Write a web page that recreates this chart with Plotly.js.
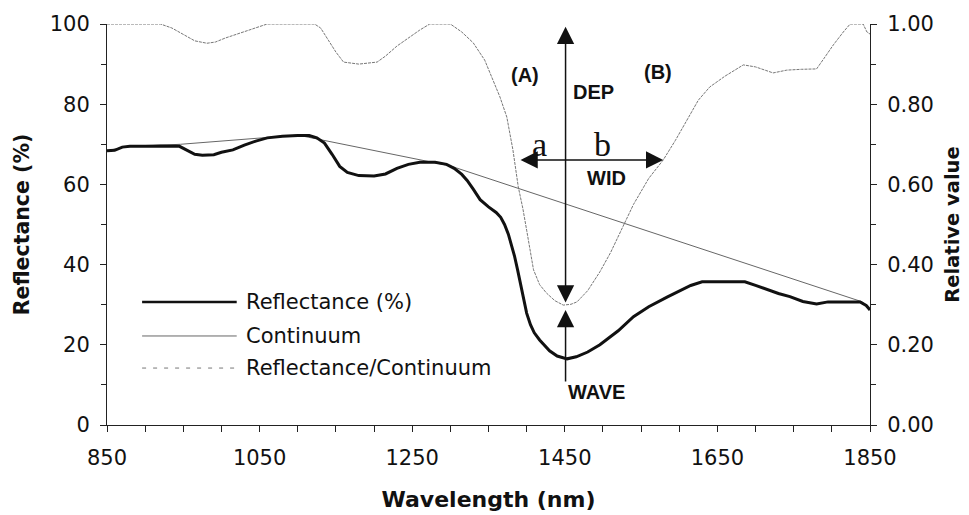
<!DOCTYPE html>
<html>
<head>
<meta charset="utf-8">
<script src="https://cdn.plot.ly/plotly-3.0.1.min.js"></script>
<style>html,body{margin:0;padding:0;background:#fff;}#chart{width:969px;height:515px;}</style>
</head>
<body>
<div id="chart"></div>
<script>
// Reflectance (%) — thick black line, left axis
const reflWl  = [850,860,870,880,900,920,945,955,965,975,990,1000,1015,1030,1045,1060,1080,1100,1115,1125,1135,1145,1155,1165,1180,1200,1215,1230,1245,1260,1280,1295,1305,1315,1322,1330,1339,1350,1360,1366,1371,1376,1380,1384,1388,1391,1396,1400,1405,1410,1417,1430,1440,1453,1465,1480,1496,1520,1540,1560,1584,1600,1615,1630,1660,1686,1700,1715,1730,1745,1762,1780,1795,1820,1837,1845,1850];
const reflVal = [68.4,68.5,69.3,69.5,69.5,69.6,69.5,68.5,67.5,67.3,67.4,68.0,68.6,69.8,70.8,71.6,72.0,72.2,72.2,71.6,70.3,67.5,64.5,63.0,62.2,62.1,62.6,64.0,65.0,65.5,65.5,65.0,64.0,62.5,61.0,58.8,56.2,54.4,53.0,51.8,50.0,47.6,45.2,42.2,38.8,36.2,31.5,27.9,25.0,23.0,21.2,18.5,17.2,16.5,17.0,18.2,20.0,23.5,27.0,29.5,31.9,33.5,34.8,35.7,35.8,35.7,34.8,33.7,32.8,32.0,30.8,30.2,30.7,30.7,30.7,29.8,28.7];

// Continuum (%) — thin solid grey line, left axis
const contWl  = [850,876,946,1064,1100,1300,1840,1850];
const contVal = [68.4,69.4,70.0,71.8,72.3,64.6,30.7,28.7];

// Reflectance/Continuum (relative value) — thin dashed grey line, right axis
const ratioWl  = [850,920,935,950,965,981,992,1005,1020,1035,1050,1060,1122,1130,1140,1150,1160,1180,1204,1215,1230,1245,1260,1273,1300,1315,1330,1345,1355,1365,1374,1382,1389,1395,1400,1405,1409,1417,1426,1437,1448,1458,1466,1480,1496,1510,1522,1540,1560,1579,1595,1610,1625,1640,1660,1684,1700,1723,1741,1760,1780,1790,1802,1815,1824,1841,1846,1850];
const ratioVal = [1.0,1.0,0.99,0.975,0.958,0.952,0.955,0.965,0.975,0.985,0.995,1.0,1.0,0.99,0.96,0.93,0.905,0.90,0.905,0.92,0.945,0.965,0.985,1.0,1.0,0.98,0.953,0.91,0.865,0.818,0.768,0.686,0.594,0.54,0.486,0.43,0.387,0.35,0.329,0.31,0.299,0.301,0.307,0.335,0.382,0.43,0.479,0.55,0.615,0.661,0.71,0.761,0.81,0.843,0.87,0.898,0.893,0.878,0.885,0.887,0.888,0.915,0.948,0.98,1.0,1.0,0.98,0.975];

const seriesNames = ['Reflectance (%)','Continuum','Reflectance/Continuum'];
const xTitle = 'Wavelength (nm)';
const yTitle = 'Reflectance (%)';
const y2Title = 'Relative value';

// Feature annotations (wavelength, value)
const depX = 1451, depTop = 0.993, depBottom = 0.302;
const waveTail = 0.105, waveHead = 0.287;
const widY = 0.661, widLeft = 1390, widRight = 1579;

const styles = [
  {color:'#111', width:3, dash:'solid'},
  {color:'#666', width:1, dash:'solid'},
  {color:'#777', width:1, dash:'3px,1px'}
];
const legendDash = ['solid','solid','4px,7px'];

const traces = [
  {x: ratioWl, y: ratioVal, yaxis:'y2', name: seriesNames[2], mode:'lines', line: styles[2], hoverinfo:'skip'},
  {x: contWl, y: contVal, name: seriesNames[1], mode:'lines', line: styles[1], hoverinfo:'skip'},
  {x: reflWl, y: reflVal, name: seriesNames[0], mode:'lines', line: styles[0], hoverinfo:'skip'}
];

const F = 'DejaVu Sans, Verdana, sans-serif';
const axCol = '#222';

// manual legend (long line samples)
const legRows = [0.307, 0.222, 0.142];
const legX0 = 0.046, legX1 = 0.170, legTX = 0.180;
const shapes = [];
const annotations = [];
legRows.forEach((yy, i) => {
  shapes.push({type:'line', xref:'paper', yref:'paper', x0:legX0, x1:legX1, y0:yy, y1:yy,
               line:{color:styles[i].color, width: i===0 ? 2.5 : 1, dash: legendDash[i]}});
  annotations.push({xref:'paper', yref:'paper', x:legTX, y:yy, text:seriesNames[i], showarrow:false,
               xanchor:'left', yanchor:'middle', font:{family:F, size:21, color:'#111'}});
});

const arrowBase = {showarrow:true, text:'', arrowcolor:'#111', arrowwidth:1.5, arrowsize:2.3, startarrowsize:2.3, arrowhead:2, startarrowhead:2, standoff:0, startstandoff:0};
annotations.push(Object.assign({}, arrowBase, {xref:'x', yref:'y2', axref:'x', ayref:'y2', x:depX, y:depTop, ax:depX, ay:depBottom, arrowside:'end+start'}));
annotations.push(Object.assign({}, arrowBase, {xref:'x', yref:'y2', axref:'x', ayref:'y2', x:depX, y:waveHead, ax:depX, ay:waveTail, arrowside:'end'}));
annotations.push(Object.assign({}, arrowBase, {xref:'x', yref:'y2', axref:'x', ayref:'y2', x:widRight, y:widY, ax:widLeft, ay:widY, arrowside:'end+start'}));

const boldF = {family:'Liberation Sans, Arial, sans-serif', size:20, color:'#111', weight:'bold'};
const labels = [
  ['(A)', 1398, 87.3, boldF],
  ['(B)', 1572, 88.0, boldF],
  ['DEP', 1487, 83.0, boldF],
  ['WID', 1505, 61.6, boldF],
  ['WAVE', 1492, 8.2, boldF],
  ['a', 1417, 70.0, {family:'Liberation Serif, Times New Roman, serif', size:34, color:'#111'}],
  ['b', 1499, 70.0, {family:'Liberation Serif, Times New Roman, serif', size:34, color:'#111'}]
];
labels.forEach(l => annotations.push({x:l[1], y:l[2], xref:'x', yref:'y', text:l[0], showarrow:false, xanchor:'center', yanchor:'middle', font:l[3]}));

const layout = {
  width:969, height:515,
  margin:{l:107, r:99, t:24, b:90},
  paper_bgcolor:'#fff', plot_bgcolor:'#fff',
  showlegend:false,
  font:{family:F, size:21, color:'#111'},
  xaxis:{range:[850,1850], tick0:850, dtick:200, ticks:'outside', ticklen:6, tickcolor:axCol,
         showline:true, linecolor:axCol, linewidth:1, showgrid:false, zeroline:false,
         minor:{tick0:850, dtick:50, ticks:'outside', ticklen:6, tickcolor:axCol, showgrid:false},
         tickfont:{family:F, size:21}, ticklabelstandoff:8,
         title:{text:xTitle, font:{family:F, size:22, weight:'bold'}, standoff:22}},
  yaxis:{range:[0,100], tick0:0, dtick:20, ticks:'outside', ticklen:6, tickcolor:axCol,
         showline:true, linecolor:axCol, linewidth:1, showgrid:false, zeroline:false,
         minor:{dtick:10, ticks:'outside', ticklen:5, tickcolor:axCol, showgrid:false},
         tickfont:{family:F, size:21}, ticklabelstandoff:6,
         title:{text:yTitle, font:{family:F, size:20.5, weight:'bold'}, standoff:14}},
  yaxis2:{range:[0,1], overlaying:'y', side:'right', tick0:0, dtick:0.2, tickformat:'.2f',
         ticks:'outside', ticklen:6, tickcolor:axCol,
         showline:true, linecolor:axCol, linewidth:1, showgrid:false, zeroline:false,
         minor:{dtick:0.1, ticks:'outside', ticklen:5, tickcolor:axCol, showgrid:false},
         tickfont:{family:F, size:21}, ticklabelstandoff:6,
         title:{text:y2Title, font:{family:F, size:19.5, weight:'bold'}, standoff:12}},
  shapes: shapes,
  annotations: annotations
};

Plotly.newPlot('chart', traces, layout, {displayModeBar:false, staticPlot:true});
</script>
</body>
</html>
